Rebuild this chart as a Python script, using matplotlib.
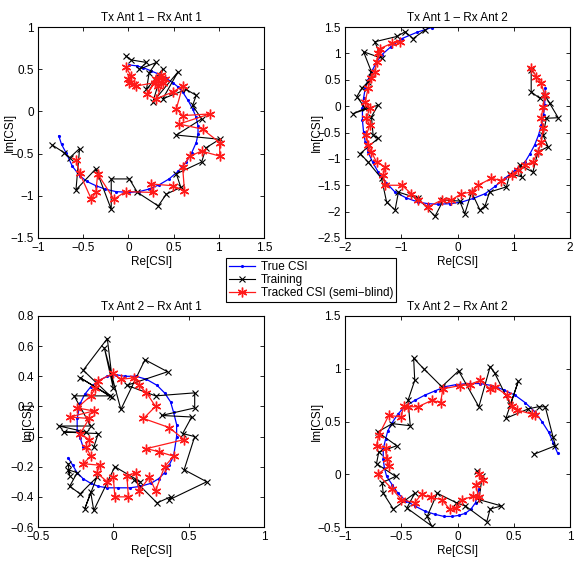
#!/usr/bin/env python3
"""
CSI tracking in the complex plane: true vs training vs semi-blind tracked, 2x2 antennas.
"""

import matplotlib
matplotlib.use("Agg")
import matplotlib.pyplot as plt
from matplotlib.ticker import FuncFormatter
from matplotlib.lines import Line2D

plt.rcParams["font.family"] = ["Liberation Sans", "DejaVu Sans"]
plt.rcParams["font.size"] = 8.5

TITLES = ["Tx Ant 1 \u2013 Rx Ant 1", "Tx Ant 1 \u2013 Rx Ant 2",
          "Tx Ant 2 \u2013 Rx Ant 1", "Tx Ant 2 \u2013 Rx Ant 2"]

# ---- Tx1 / Rx1
true11_re = [0.01, 0.09, 0.16, 0.25, 0.34, 0.42, 0.49, 0.55, 0.60, 0.66, 0.71, 0.75, 0.77, 0.77, 0.75, 0.70,
             0.64, 0.55, 0.45, 0.34, 0.23, 0.12, 0.01, -0.14, -0.26, -0.36, -0.46, -0.54, -0.62, -0.69, -0.74, -0.77]
true11_im = [0.55, 0.54, 0.52, 0.48, 0.44, 0.39, 0.34, 0.29, 0.23, 0.13, 0.03, -0.07, -0.17, -0.27, -0.37, -0.49,
             -0.60, -0.71, -0.80, -0.87, -0.92, -0.95, -0.96, -0.95, -0.92, -0.88, -0.83, -0.76, -0.65, -0.49, -0.39, -0.29]
train11_re = [-0.03, 0.03, 0.20, 0.12, 0.31, 0.23, 0.20, 0.38, 0.27, 0.55, 0.38, 0.64, 0.75, 0.71, 0.81, 0.53, 1.01,
              0.86, 0.81, 0.53, 0.58, 0.42, 0.33, 0.10, 0.01, -0.19, -0.19, -0.36, -0.58, -0.54, -0.65, -0.71, -0.84]
train11_im = [0.66, 0.61, 0.58, 0.50, 0.58, 0.46, 0.26, 0.50, 0.11, 0.47, 0.15, 0.26, 0.19, 0.07, -0.09, -0.28, -0.33,
              -0.43, -0.60, -0.74, -0.90, -0.98, -1.12, -0.96, -0.80, -0.80, -1.16, -0.68, -0.93, -0.44, -0.55, -0.49, -0.40]
track11_re = [-0.03, 0.03, 0.00, 0.01, 0.06, 0.08, 0.29, 0.21, 0.30, 0.34, 0.36, 0.38, 0.33, 0.40, 0.31, 0.49,
              0.60, 0.53, 0.60, 0.90, 0.56, 0.82, 1.01, 1.01, 0.81, 0.68, 0.60, 0.62, 0.49, 0.25, 0.27, -0.03,
              -0.16, -0.34, -0.36, -0.41, -0.54, -0.58]
track11_im = [0.53, 0.42, 0.38, 0.34, 0.33, 0.30, 0.34, 0.21, 0.38, 0.40, 0.43, 0.34, 0.30, 0.38, 0.15, 0.23,
              0.30, 0.03, -0.05, -0.03, -0.15, -0.21, -0.37, -0.53, -0.47, -0.53, -0.66, -0.94, -0.88, -0.86, -0.96, -0.95,
              -1.04, -0.74, -0.96, -1.04, -0.73, -0.57]

# ---- Tx1 / Rx2
true12_re = [-0.46, -0.72, -0.99, -1.18, -1.35, -1.45, -1.53, -1.59, -1.64, -1.67, -1.69, -1.69, -1.67, -1.64,
             -1.59, -1.51, -1.41, -1.27, -1.11, -0.91, -0.70, -0.52, -0.34, -0.14, 0.07, 0.28, 0.49, 0.67,
             0.84, 1.03, 1.20, 1.29, 1.37, 1.44, 1.49, 1.53, 1.55, 1.56]
true12_im = [1.49, 1.40, 1.28, 1.13, 0.97, 0.81, 0.65, 0.50, 0.34, 0.15, -0.04, -0.27, -0.49, -0.68,
             -0.87, -1.06, -1.25, -1.45, -1.63, -1.74, -1.82, -1.85, -1.86, -1.85, -1.82, -1.75, -1.66, -1.52,
             -1.37, -1.21, -1.06, -0.90, -0.74, -0.55, -0.36, -0.17, 0.02, 0.34]
train12_re = [-0.58, -0.79, -0.93, -1.08, -1.47, -1.35, -1.67, -1.53, -1.59, -1.70, -1.79, -1.64, -1.85, -1.41,
              -1.53, -1.50, -1.41, -1.73, -1.59, -1.35, -1.26, -1.11, -1.05, -0.70, -0.40, -0.25, 0.04, 0.13,
              0.25, 0.40, 0.49, 0.57, 0.87, 0.93, 1.14, 1.11, 1.34, 1.43, 1.61, 1.52, 1.58, 1.79, 1.64, 1.55,
              1.46, 1.31, 1.31]
train12_im = [1.44, 1.28, 1.41, 1.32, 1.22, 0.91, 1.03, 0.65, 0.46, 0.34, 0.18, -0.04, -0.14, 0.02,
              -0.20, -0.55, -0.61, -0.90, -1.06, -1.37, -1.82, -1.97, -1.63, -1.75, -2.09, -1.78, -1.80, -2.04,
              -1.63, -1.97, -1.89, -1.63, -1.53, -1.28, -1.34, -1.12, -1.25, -0.87, -0.77, -0.55, -0.23, -0.22,
              0.05, 0.21, 0.15, 0.27, 0.68]
track12_re = [-1.02, -1.17, -1.38, -1.41, -1.44, -1.47, -1.53, -1.59, -1.64, -1.56, -1.62, -1.56, -1.62, -1.59,
              -1.53, -1.44, -1.29, -1.32, -1.29, -0.99, -0.82, -0.70, -0.52, -0.28, -0.11, 0.07, 0.25, 0.37,
              0.60, 0.78, 0.96, 1.08, 1.20, 1.34, 1.43, 1.49, 1.52, 1.49, 1.52, 1.55, 1.49, 1.40, 1.31]
track12_im = [1.22, 1.19, 1.09, 1.00, 0.84, 0.65, 0.53, 0.34, 0.08, -0.04, -0.23, -0.36, -0.55, -0.74,
              -0.87, -1.06, -1.15, -1.31, -1.50, -1.50, -1.66, -1.78, -1.91, -1.78, -1.78, -1.66, -1.63, -1.50,
              -1.37, -1.41, -1.31, -1.22, -1.12, -1.06, -0.87, -0.68, -0.42, -0.23, -0.01, 0.21, 0.43, 0.56, 0.72]

# ---- Tx2 / Rx1
true21_re = [-0.20, -0.22, -0.24, -0.24, -0.22, -0.19, -0.15, -0.10, -0.04, 0.02, 0.08, 0.15, 0.22, 0.29, 0.34,
             0.38, 0.40, 0.42, 0.42, 0.40, 0.37, 0.34, 0.30, 0.25, 0.18, 0.11, 0.03, -0.04, -0.10, -0.15, -0.20,
             -0.24, -0.27, -0.30]
true21_im = [-0.07, -0.01, 0.04, 0.12, 0.22, 0.28, 0.33, 0.37, 0.40, 0.41, 0.40, 0.40, 0.38, 0.34, 0.29,
             0.23, 0.16, 0.08, 0.0, -0.13, -0.19, -0.24, -0.28, -0.31, -0.33, -0.34, -0.34, -0.34, -0.33, -0.31, -0.28,
             -0.24, -0.19, -0.14]
train21_re = [-0.13, -0.10, -0.33, -0.18, -0.36, -0.15, -0.26, -0.02, -0.22, -0.01, -0.20, -0.04, 0.0, -0.06,
              0.05, 0.21, 0.36, 0.09, 0.28, 0.54, 0.54, 0.32, 0.52, 0.46, 0.54, 0.47, 0.62, 0.37, 0.38, 0.29,
              0.14, 0.18, 0.01, -0.13, -0.15, -0.19, -0.11, -0.22, -0.29, -0.24, -0.30, -0.29, -0.30]
train21_im = [-0.07, 0.02, 0.03, 0.03, 0.07, 0.07, 0.27, 0.27, 0.39, 0.26, 0.44, 0.65, 0.32, 0.59,
              0.18, 0.51, 0.43, 0.34, 0.27, 0.29, 0.19, 0.14, 0.13, 0.02, 0.0, -0.22, -0.30, -0.42, -0.40, -0.44,
              -0.29, -0.30, -0.20, -0.49, -0.37, -0.48, -0.27, -0.38, -0.33, -0.24, -0.22, -0.26, -0.18]
track21_re = [-0.16, -0.22, -0.16, -0.29, -0.13, -0.24, -0.15, -0.12, -0.10, 0.0, 0.05, 0.14, 0.17, 0.22,
              0.28, 0.20, 0.37, 0.47, 0.22, 0.30, 0.40, 0.34, 0.28, 0.24, 0.17, 0.15, 0.09, 0.10, 0.01, 0.0,
              -0.04, -0.11, -0.09, -0.20, -0.15, -0.18]
track21_im = [-0.02, 0.02, 0.12, 0.13, 0.17, 0.19, 0.27, 0.32, 0.37, 0.42, 0.38, 0.39, 0.34, 0.29,
              0.20, 0.12, 0.06, -0.02, -0.08, -0.10, -0.13, -0.20, -0.36, -0.27, -0.36, -0.24, -0.26, -0.40,
              -0.40, -0.27, -0.30, -0.24, -0.19, -0.18, -0.13, -0.07]

# ---- Tx2 / Rx2
true22_re = [0.89, 0.85, 0.81, 0.75, 0.69, 0.60, 0.51, 0.41, 0.31, 0.20, 0.10, -0.01, -0.11, -0.20, -0.29, -0.38,
             -0.47, -0.53, -0.58, -0.62, -0.64, -0.66, -0.66, -0.65, -0.63, -0.58, -0.53, -0.46, -0.38, -0.29,
             -0.20, -0.12, -0.05, 0.01, 0.07, 0.12, 0.16, 0.19]
true22_im = [0.20, 0.30, 0.40, 0.50, 0.59, 0.68, 0.75, 0.80, 0.84, 0.86, 0.86, 0.85, 0.83, 0.79, 0.75, 0.70,
             0.64, 0.57, 0.49, 0.41, 0.33, 0.24, 0.14, 0.06, -0.02, -0.10, -0.18, -0.25, -0.30, -0.35,
             -0.38, -0.40, -0.40, -0.39, -0.37, -0.33, -0.27, -0.14]
train22_re = [0.68, 0.87, 0.85, 0.78, 0.72, 0.63, 0.43, 0.54, 0.47, 0.33, 0.29, 0.19, 0.01, -0.14, -0.30,
              -0.39, -0.38, -0.44, -0.42, -0.58, -0.71, -0.54, -0.70, -0.72, -0.55, -0.67, -0.66, -0.57,
              -0.38, -0.45, -0.23, -0.27, -0.18, -0.01, 0.07, 0.26, 0.29, 0.39, 0.19, 0.22, 0.17]
train22_im = [0.19, 0.27, 0.35, 0.64, 0.64, 0.62, 0.53, 0.88, 0.66, 0.96, 1.02, 0.64, 0.98, 0.83, 1.00,
              1.10, 0.89, 0.70, 0.46, 0.48, 0.40, 0.27, 0.21, 0.10, -0.02, -0.08, -0.18, -0.33,
              -0.18, -0.32, -0.49, -0.40, -0.18, -0.27, -0.30, -0.45, -0.33, -0.30, -0.24, -0.02, 0.03]
track22_re = [0.69, 0.66, 0.53, 0.48, 0.44, 0.33, 0.29, 0.20, 0.11, 0.02, -0.13, -0.15, -0.23, -0.35, -0.44,
              -0.48, -0.50, -0.61, -0.70, -0.72, -0.64, -0.63, -0.61, -0.71, -0.58, -0.50, -0.38, -0.32,
              -0.24, -0.14, -0.07, -0.01, 0.04, 0.14, 0.19, 0.16, 0.23, 0.19]
track22_im = [0.56, 0.57, 0.61, 0.65, 0.75, 0.83, 0.81, 0.89, 0.85, 0.84, 0.81, 0.68, 0.70, 0.64, 0.64,
              0.65, 0.54, 0.56, 0.37, 0.27, 0.25, 0.14, 0.08, 0.0, -0.14, -0.24, -0.27, -0.19,
              -0.22, -0.24, -0.33, -0.32, -0.24, -0.21, -0.22, -0.10, -0.05, 0.0]

PANELS = [
    (true11_re, true11_im, train11_re, train11_im, track11_re, track11_im),
    (true12_re, true12_im, train12_re, train12_im, track12_re, track12_im),
    (true21_re, true21_im, train21_re, train21_im, track21_re, track21_im),
    (true22_re, true22_im, train22_re, train22_im, track22_re, track22_im),
]
XLIM = [(-1, 1.5), (-2, 2), (-0.5, 1), (-1, 1)]
YLIM = [(-1.5, 1), (-2.5, 1.5), (-0.6, 0.8), (-0.5, 1.5)]
XTICKS = [[-1, -0.5, 0, 0.5, 1, 1.5], [-2, -1, 0, 1, 2], [-0.5, 0, 0.5, 1], [-1, -0.5, 0, 0.5, 1]]
YTICKS = [[-1.5, -1, -0.5, 0, 0.5, 1], [-2.5, -2, -1.5, -1, -0.5, 0, 0.5, 1, 1.5],
          [-0.6, -0.4, -0.2, 0, 0.2, 0.4, 0.6, 0.8], [-0.5, 0, 0.5, 1, 1.5]]

W, H = 574, 563
# axes boxes in pixels: left, top, right, bottom
BOXES = [(38, 27, 264, 238), (345, 27, 570, 238), (38, 316, 264, 527), (345, 316, 570, 527)]
YLABEL_X = [-0.10, -0.10, -0.02, -0.10]

TRUE_STYLE = dict(color="blue", lw=0.9, marker=".", ms=2.5)
TRAIN_STYLE = dict(color="black", lw=0.8, marker="x", ms=4, mew=0.8)
TRACK_STYLE = dict(color="#ff1a1a", lw=0.9, marker=(6, 2, 0), ms=7, mew=1.0)


def fmt(v, _):
    return ("%g" % v).replace("-", "\u2212")


def main():
    fig = plt.figure(figsize=(W / 100, H / 100), dpi=100)
    for i, (tr, ti, nr, ni, kr, ki) in enumerate(PANELS):
        l, t, r, b = BOXES[i]
        ax = fig.add_axes([l / W, 1 - b / H, (r - l) / W, (b - t) / H])
        ax.plot(tr, ti, "-", **TRUE_STYLE)
        ax.plot(nr, ni, "-", **TRAIN_STYLE)
        ax.plot(kr, ki, "-", **TRACK_STYLE)
        ax.set_xlim(*XLIM[i])
        ax.set_ylim(*YLIM[i])
        ax.set_xticks(XTICKS[i])
        ax.set_yticks(YTICKS[i])
        ax.xaxis.set_major_formatter(FuncFormatter(fmt))
        ax.yaxis.set_major_formatter(FuncFormatter(fmt))
        ax.tick_params(direction="in", top=True, right=True, length=3, width=0.6, pad=3)
        for s in ax.spines.values():
            s.set_linewidth(0.8)
        ax.set_title(TITLES[i], fontsize=8.5, pad=4)
        ax.set_xlabel("Re[CSI]", labelpad=1)
        ax.set_ylabel("Im[CSI]")
        ax.yaxis.set_label_coords(YLABEL_X[i], 0.5)

    handles = [Line2D([], [], **TRUE_STYLE), Line2D([], [], **TRAIN_STYLE),
               Line2D([], [], **TRACK_STYLE)]
    labels = ["True CSI", "Training", "Tracked CSI (semi\u2212blind)"]
    leg = fig.legend(handles, labels, loc="upper left",
                     bbox_to_anchor=(226 / W, 1 - 258 / H), borderaxespad=0,
                     fancybox=False, edgecolor="black", framealpha=1,
                     handlelength=2.2, handletextpad=0.5, labelspacing=0.1,
                     borderpad=0.25, fontsize=8.5)
    leg.get_frame().set_linewidth(0.8)

    fig.savefig("out.png", dpi=100)
    plt.close(fig)


if __name__ == "__main__":
    main()
